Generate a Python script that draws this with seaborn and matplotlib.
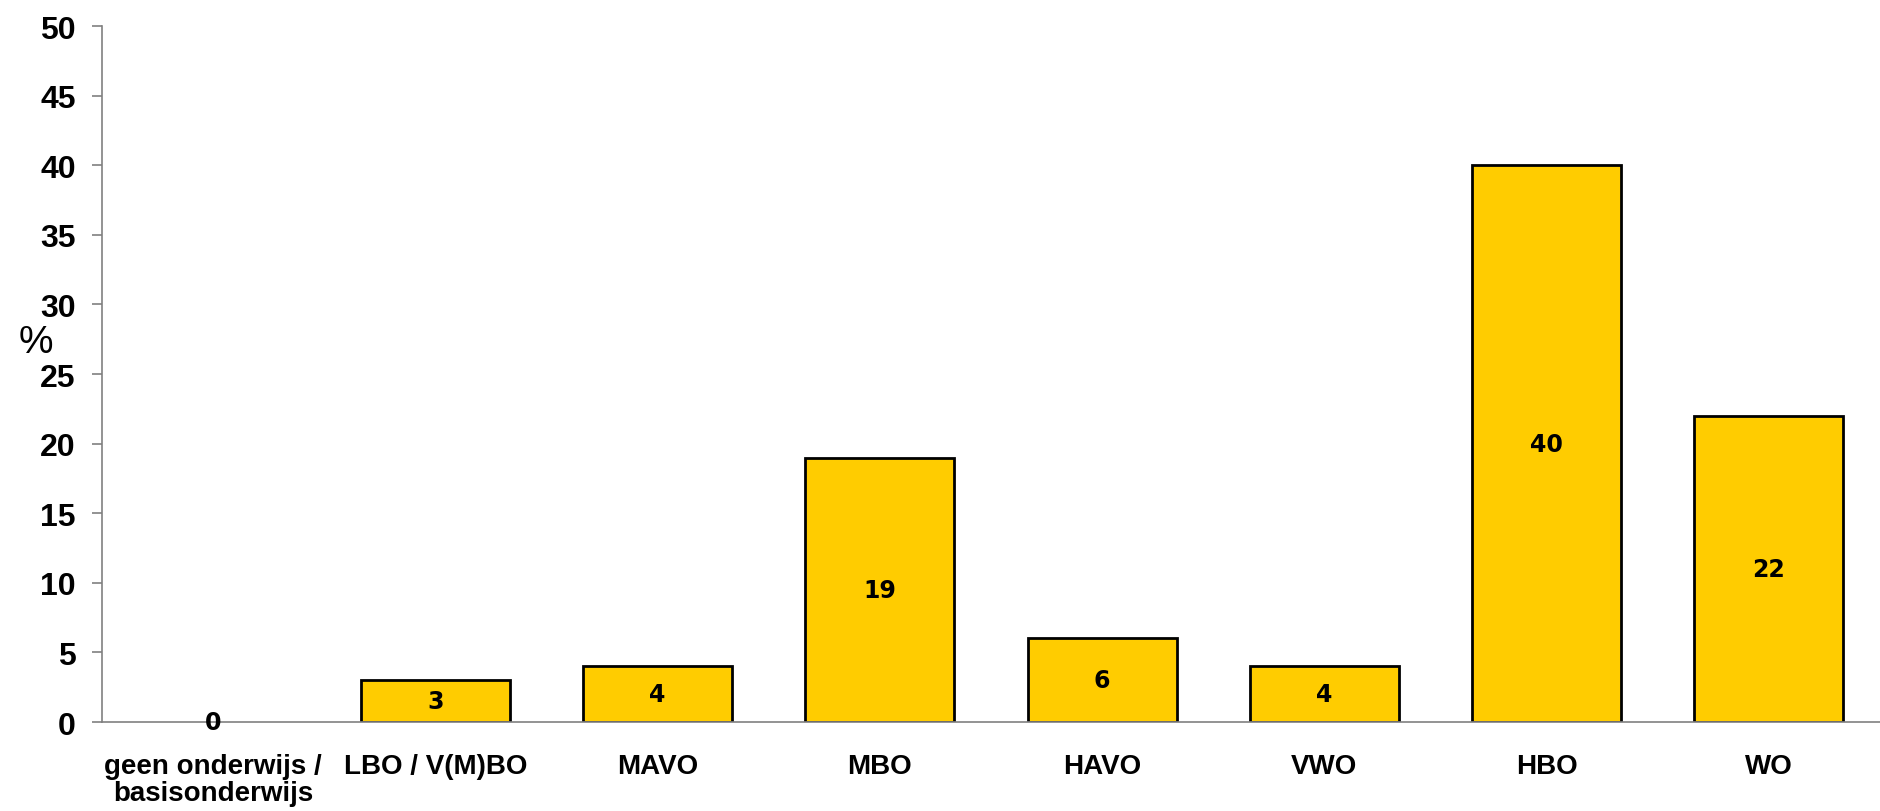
import numpy as np
import pandas as pd
import matplotlib
matplotlib.use("Agg")
import matplotlib.pyplot as plt
import seaborn as sns

# data
categories = ["geen onderwijs /\nbasisonderwijs", "LBO / V(M)BO", "MAVO", "MBO",
              "HAVO", "VWO", "HBO", "WO"]
values = [0, 3, 4, 19, 6, 4, 40, 22]
y_ticks = list(range(0, 55, 5))

YELLOW = "#FFCC00"
AXIS = "#808080"

sns.set_style("white")
plt.rcParams["font.family"] = ["Liberation Sans", "DejaVu Sans"]
plt.rcParams["text.color"] = "black"
plt.rcParams["xtick.labelcolor"] = "black"
plt.rcParams["ytick.labelcolor"] = "black"

df = pd.DataFrame({"cat": categories, "val": values})

fig = plt.figure(figsize=(18.8, 8.12), dpi=100)
ax = fig.add_axes([0.0543, 0.1096, 0.9457, 0.8571])

sns.barplot(data=df, x="cat", y="val", color=YELLOW, edgecolor="black",
            linewidth=2, width=0.67, saturation=1, ax=ax)

# empty bars get no outline
for p in ax.patches:
    if p.get_height() == 0:
        p.set_linewidth(0)

for cont in ax.containers:
    ax.bar_label(cont, labels=[str(v) for v in values], label_type="center",
                 fontsize=17, fontweight="bold", family="DejaVu Sans", color="black")

ax.set_xlim(-0.5, 7.5)
ax.set_ylim(0, 50)
ax.set_yticks(y_ticks)
ax.set_yticklabels([str(t) for t in y_ticks], fontsize=23, fontweight="bold")

# category labels at centres, tick marks at the boundaries
ax.set_xticks(range(len(categories)))
ax.set_xticklabels(categories, fontsize=20, fontweight="bold", linespacing=1.05)
ax.set_xticks(np.arange(-0.5, len(categories), 1), minor=True)
ax.tick_params(axis="x", which="major", length=0, pad=22)
ax.tick_params(axis="x", which="minor", length=7, width=1.2, color=AXIS, direction="out")
ax.tick_params(axis="y", length=7, width=1.2, color=AXIS, direction="out", pad=12)
ax.tick_params(axis="y", left=True)

ax.set_xlabel("")
ax.set_ylabel("")
fig.text(0.019, 0.578, "%", fontsize=28, ha="center", va="center")

for side in ["top", "right"]:
    ax.spines[side].set_visible(False)
for side in ["left", "bottom"]:
    ax.spines[side].set_color(AXIS)
    ax.spines[side].set_linewidth(1.2)

fig.savefig("out.png", dpi=100, facecolor="white")
